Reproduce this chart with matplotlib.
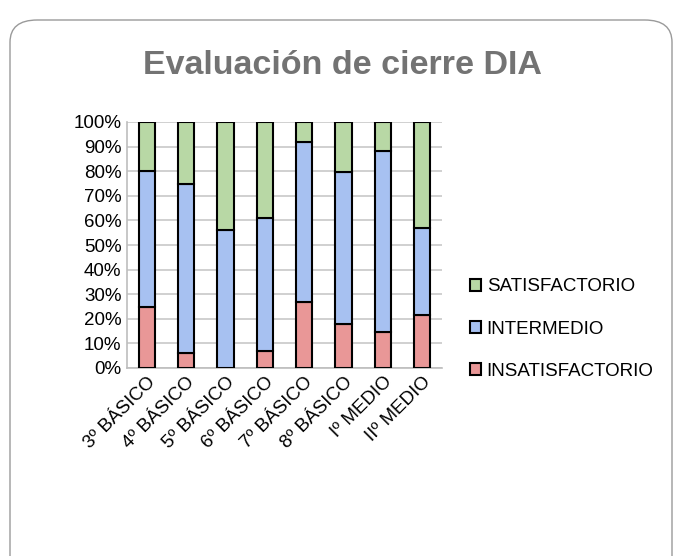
import matplotlib
matplotlib.use('Agg')
import matplotlib.pyplot as plt
from matplotlib.patches import FancyBboxPatch
from matplotlib import font_manager
import numpy as np

# grades and percentage shares per level
grados = ['3º BÁSICO', '4º BÁSICO', '5º BÁSICO', '6º BÁSICO',
          '7º BÁSICO', '8º BÁSICO', 'Iº MEDIO', 'IIº MEDIO']
insatisfactorio = [25, 6, 0, 7, 27, 18, 14.6, 21.5]
intermedio = [55, 69, 56, 54, 65, 61.5, 73.6, 35.4]
satisfactorio = [20, 25, 44, 39, 8, 20.5, 11.8, 43.1]

col_insat = '#e99797'
col_inter = '#a7c1f1'
col_sat = '#b8d8a5'

names = {f.name for f in font_manager.fontManager.ttflist}
fam = 'Liberation Sans Narrow' if 'Liberation Sans Narrow' in names else 'Liberation Sans'
plt.rcParams['font.family'] = [fam, 'DejaVu Sans']
fs = 15 if fam == 'Liberation Sans Narrow' else 13.5
ts = 30 if fam == 'Liberation Sans Narrow' else 24.5

fig = plt.figure(figsize=(6.81, 5.56), dpi=100)
W, H = 681, 556

# rounded frame
frame = FancyBboxPatch((10 / W, -0.05), 662 / W, 1 - 20 / H + 0.05,
                       boxstyle='round,pad=0,rounding_size=0.04',
                       transform=fig.transFigure, facecolor='white',
                       edgecolor='#9a9a9a', linewidth=1.0, zorder=-10)
fig.patches.append(frame)

ax = fig.add_axes([127 / W, 1 - 368 / H, 315 / W, 246 / H])
ax.patch.set_alpha(0)
x = np.arange(len(grados))
w = 0.41
b2 = np.array(insatisfactorio) + np.array(intermedio)
ax.bar(x, insatisfactorio, w, color=col_insat, edgecolor='black', linewidth=1.5,
       label='INSATISFACTORIO', zorder=3)
ax.bar(x, intermedio, w, bottom=insatisfactorio, color=col_inter, edgecolor='black',
       linewidth=1.5, label='INTERMEDIO', zorder=3)
ax.bar(x, satisfactorio, w, bottom=b2, color=col_sat, edgecolor='black',
       linewidth=1.5, label='SATISFACTORIO', zorder=3)

ax.set_xlim(-0.5, len(grados) - 0.5)
ax.set_ylim(0, 100)
ax.set_yticks(range(0, 101, 10))
ax.set_yticklabels([f'{v}%' for v in range(0, 101, 10)], fontsize=fs)
ax.yaxis.grid(True, color='#c8c8c8', linewidth=1.2, zorder=0)
ax.set_xticks(x)
ax.set_xticklabels(grados, rotation=45, ha='right', rotation_mode='anchor', fontsize=fs)
ax.tick_params(axis='both', length=0, pad=4)
for s in ['top', 'right']:
    ax.spines[s].set_visible(False)
ax.spines['left'].set_color('#bdbdbd')
ax.spines['bottom'].set_color('#bdbdbd')
ax.spines['left'].set_linewidth(1.2)
ax.spines['bottom'].set_linewidth(1.2)

handles, labels = ax.get_legend_handles_labels()
leg = fig.legend(handles[::-1], labels[::-1], loc='center left',
                 bbox_to_anchor=(453 / W, 1 - 329 / H), frameon=False,
                 fontsize=fs, handlelength=0.6, handleheight=0.6,
                 handletextpad=0.3, labelspacing=1.35)

fig.text(342 / W, 1 - 66 / H, 'Evaluación de cierre DIA', ha='center', va='center',
         fontsize=ts, fontweight='bold', color='#737373')

fig.savefig('out.png', dpi=100)
